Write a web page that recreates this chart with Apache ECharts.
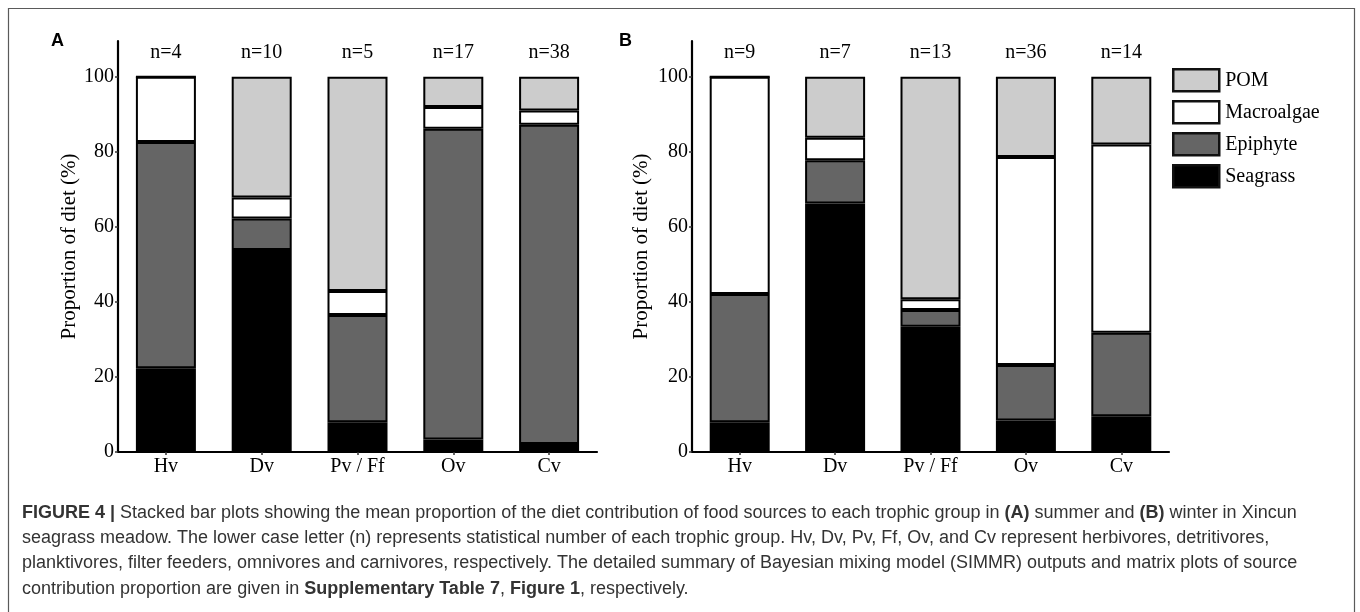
<!DOCTYPE html>
<html>
<head>
<meta charset="utf-8">
<script src="https://cdn.jsdelivr.net/npm/echarts@6/dist/echarts.min.js"></script>
<style>
  html, body { margin: 0; padding: 0; background: #fff; }
  #chart { width: 1360px; height: 612px; }
</style>
</head>
<body>
<div id="chart"></div>
<script>
// ---- data ----
const categories = ['Hv', 'Dv', 'Pv / Ff', 'Ov', 'Cv'];
const sources = ['POM', 'Macroalgae', 'Epiphyte', 'Seagrass'];
const nA = ['n=4', 'n=10', 'n=5', 'n=17', 'n=38'];
const nB = ['n=9', 'n=7', 'n=13', 'n=36', 'n=14'];
// Panel A (summer)
const seagrassA   = [22.3, 53.8, 7.9, 3.3, 2.1];
const epiphyteA   = [60.3, 8.4, 28.6, 82.8, 85.1];
const macroalgaeA = [17.4, 5.6, 6.4, 5.8, 3.8];
const pomA        = [0, 32.2, 57.1, 8.1, 9.0];
// Panel B (winter)
const seagrassB   = [7.9, 66.2, 33.4, 8.4, 9.5];
const epiphyteB   = [34.2, 11.5, 4.4, 14.8, 22.3];
const macroalgaeB = [57.9, 6.0, 2.9, 55.4, 50.1];
const pomB        = [0, 16.3, 59.3, 21.4, 18.1];
const yTicks = [0, 20, 40, 60, 80, 100];

// ---- styling ----
const SERIF = '"Liberation Serif", "DejaVu Serif", serif';
const SANS = '"Liberation Sans", Arial, sans-serif';
const colors = { POM: '#cccccc', Macroalgae: '#ffffff', Epiphyte: '#656565', Seagrass: '#000000' };

function panelAxes(gridIndex, nLabels, nameGap) {
  const x = {
    type: 'category', gridIndex: gridIndex, data: categories,
    axisLine: { show: true, lineStyle: { color: '#000', width: 2.2 } },
    axisTick: { show: true, alignWithLabel: true, length: 3, lineStyle: { color: '#333', width: 1.5 } },
    axisLabel: { fontFamily: SERIF, fontSize: 20, color: '#000', margin: 5, interval: 0 },
    splitLine: { show: false }
  };
  const xTop = {
    type: 'category', gridIndex: gridIndex, data: nLabels, position: 'top', offset: -22,
    axisLine: { show: false }, axisTick: { show: false },
    axisLabel: { fontFamily: SERIF, fontSize: 20, color: '#000', margin: 0, interval: 0 },
    splitLine: { show: false }
  };
  const y = {
    type: 'value', gridIndex: gridIndex, min: 0, max: 109.5,
    name: 'Proportion of diet (%)', nameLocation: 'middle', nameGap: nameGap, nameRotate: 90,
    nameTextStyle: { fontFamily: SERIF, fontSize: 21, color: '#000' },
    axisLine: { show: true, lineStyle: { color: '#000', width: 2.2 } },
    axisTick: { show: true, length: 3, customValues: yTicks, lineStyle: { color: '#333', width: 1.5 } },
    axisLabel: { fontFamily: SERIF, fontSize: 20, color: '#000', margin: 4, customValues: yTicks },
    splitLine: { show: false }
  };
  return { x, xTop, y };
}

const axA = panelAxes(0, nA, 35);
const axB = panelAxes(1, nB, 40);

function barSeries(name, data, xIdx, yIdx, stack) {
  return {
    name: name, type: 'bar', stack: stack, data: data,
    xAxisIndex: xIdx, yAxisIndex: yIdx, barWidth: 60,
    itemStyle: { color: colors[name], borderColor: '#000', borderWidth: 2 },
    emphasis: { disabled: true },
    animation: false
  };
}

const option = {
  backgroundColor: '#fff',
  animation: false,
  grid: [
    { left: 118, top: 41, width: 479, height: 411, containLabel: false, outerBoundsMode: 'none' },
    { left: 692, top: 41, width: 477, height: 411, containLabel: false, outerBoundsMode: 'none' }
  ],
  xAxis: [axA.x, axB.x, axA.xTop, axB.xTop],
  yAxis: [axA.y, axB.y],
  legend: {
    orient: 'vertical', left: 1167, top: 63,
    data: sources,
    itemWidth: 46, itemHeight: 22, itemGap: 7.5,
    icon: 'rect',
    itemStyle: { borderColor: '#111', borderWidth: 2.5 },
    textStyle: { fontFamily: SERIF, fontSize: 20, color: '#000', padding: [0, 0, 0, 1] },
    selectedMode: false
  },
  series: [
    barSeries('Seagrass', seagrassA, 0, 0, 'A'),
    barSeries('Epiphyte', epiphyteA, 0, 0, 'A'),
    barSeries('Macroalgae', macroalgaeA, 0, 0, 'A'),
    barSeries('POM', pomA, 0, 0, 'A'),
    barSeries('Seagrass', seagrassB, 1, 1, 'B'),
    barSeries('Epiphyte', epiphyteB, 1, 1, 'B'),
    barSeries('Macroalgae', macroalgaeB, 1, 1, 'B'),
    barSeries('POM', pomB, 1, 1, 'B')
  ],
  graphic: [
    {
      type: 'polyline', silent: true,
      shape: { points: [[8.5, 612], [8.5, 8.5], [1354.5, 8.5], [1354.5, 612]] },
      style: { stroke: '#5a5a5a', lineWidth: 1.2, fill: null }
    },
    { type: 'text', left: 51, top: 32, style: { text: 'A', font: 'bold 18px ' + SANS, fill: '#000' } },
    { type: 'text', left: 619, top: 32, style: { text: 'B', font: 'bold 18px ' + SANS, fill: '#000' } },
    {
      type: 'text', left: 22, top: 500,
      style: {
        text: [
          '{b|FIGURE 4 |} Stacked bar plots showing the mean proportion of the diet contribution of food sources to each trophic group in {b|(A)} summer and {b|(B)} winter in Xincun',
          'seagrass meadow. The lower case letter (n) represents statistical number of each trophic group. Hv, Dv, Pv, Ff, Ov, and Cv represent herbivores, detritivores,',
          'planktivores, filter feeders, omnivores and carnivores, respectively. The detailed summary of Bayesian mixing model (SIMMR) outputs and matrix plots of source',
          'contribution proportion are given in {b|Supplementary Table 7}, {b|Figure 1}, respectively.'
        ].join('\n'),
        fontFamily: SANS, fontSize: 18, fill: '#333', lineHeight: 25.3,
        rich: {
          b: { fontFamily: SANS, fontSize: 18, fontWeight: 'bold', fill: '#333', lineHeight: 25.3 }
        }
      }
    }
  ]
};

const chart = echarts.init(document.getElementById('chart'), null, { renderer: 'canvas' });
chart.setOption(option);
</script>
</body>
</html>
